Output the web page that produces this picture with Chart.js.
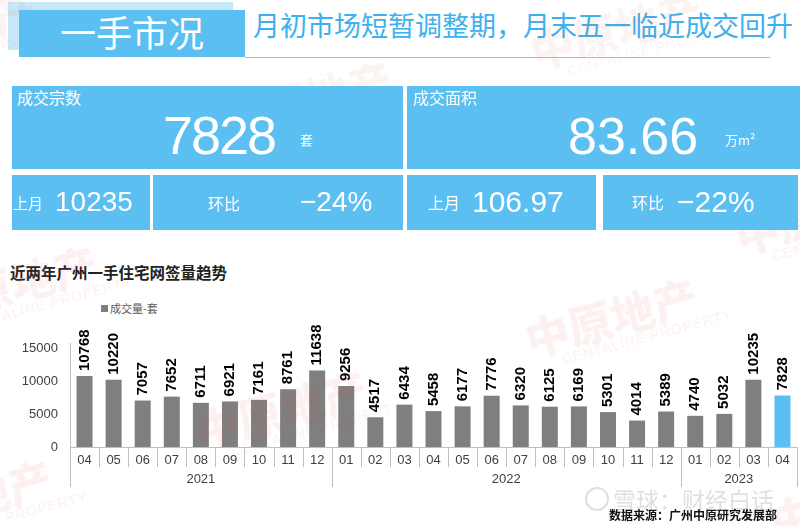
<!DOCTYPE html>
<html>
<head>
<meta charset="utf-8">
<script src="https://cdn.jsdelivr.net/npm/chart.js@4.4.0/dist/chart.umd.min.js"></script>
<style>
  body { margin: 0; width: 800px; height: 526px; overflow: hidden; background: #fff; position: relative;
         font-family: "Noto Sans CJK SC", "Liberation Sans", sans-serif; }
  .abs { position: absolute; white-space: nowrap; }
  .box { position: absolute; background: #5bbff2; z-index: 2; }
  .txt { position: absolute; white-space: nowrap; color: #fff; z-index: 3; }
  .num { font-family: "Liberation Sans", Arial, sans-serif; }
  .wm { position: absolute; z-index: 1; color: rgba(225, 70, 70, 0.08); transform: rotate(-15deg);
        transform-origin: left top; pointer-events: none; line-height: 1; white-space: nowrap; width: 220px; }
  .wm b { display: block; font-size: 44px; font-weight: 900; white-space: nowrap; }
  .wm i { display: block; font-style: normal; font-family: "Liberation Sans", sans-serif; font-size: 14px;
          letter-spacing: 1px; margin-left: 30px; white-space: nowrap; }
  #wrap { position: absolute; left: 0; top: 318px; width: 800px; height: 182px; z-index: 0; }
</style>
</head>
<body>

<!-- 标题区 -->
<div class="box" style="left:8px;top:2px;width:225px;height:48px;background:#c6e9fa;z-index:1"></div>
<div class="box" style="left:19px;top:10px;width:226px;height:47px"></div>
<div class="txt" style="left:60px;top:13px;font-size:36px;line-height:36px">一手市况</div>
<div class="abs" style="left:253px;top:11px;font-size:27px;line-height:27px;color:#3db1ee">月初市场短暂调整期，月末五一临近成交回升</div>
<div class="abs" style="left:245px;top:57px;width:525px;height:1px;background:#7fcdf3"></div>

<!-- KPI -->
<div class="box" style="left:12px;top:86px;width:391px;height:83px"></div>
<div class="box" style="left:407px;top:86px;width:393px;height:83px"></div>
<div class="box" style="left:12px;top:175px;width:138px;height:55px"></div>
<div class="box" style="left:153px;top:175px;width:250px;height:55px"></div>
<div class="box" style="left:407px;top:175px;width:189px;height:55px"></div>
<div class="box" style="left:603px;top:175px;width:195px;height:55px"></div>

<div class="txt" style="left:17px;top:89px;font-size:16px;line-height:16px">成交宗数</div>
<div class="txt num" style="left:163px;top:108px;font-size:54px;line-height:54px;letter-spacing:-2px">7828</div>
<div class="txt" style="left:300px;top:133px;font-size:13px;line-height:13px">套</div>

<div class="txt" style="left:413px;top:89px;font-size:16px;line-height:16px">成交面积</div>
<div class="txt num" style="left:568px;top:110px;font-size:52px;line-height:52px">83.66</div>
<div class="txt" style="left:725px;top:133px;font-size:13px;line-height:13px">万m²</div>

<div class="txt" style="left:13px;top:195px;font-size:15px;line-height:15px">上月</div>
<div class="txt num" style="left:55px;top:188px;font-size:28px;line-height:28px">10235</div>
<div class="txt" style="left:208px;top:195px;font-size:16px;line-height:16px">环比</div>
<div class="txt num" style="left:300px;top:188px;font-size:28px;line-height:28px">−24%</div>

<div class="txt" style="left:428px;top:194px;font-size:16px;line-height:16px">上月</div>
<div class="txt num" style="left:472px;top:187px;font-size:30px;line-height:30px">106.97</div>
<div class="txt" style="left:632px;top:194px;font-size:16px;line-height:16px">环比</div>
<div class="txt num" style="left:677px;top:187px;font-size:30px;line-height:30px">−22%</div>

<!-- 图表 -->
<div class="abs" style="left:10px;top:264px;font-size:15.5px;line-height:16px;font-weight:bold;color:#222">近两年广州一手住宅网签量趋势</div>
<div class="abs" style="left:101px;top:305px;width:7px;height:7px;background:#7f7f7f"></div>
<div class="abs" style="left:110px;top:302px;font-size:11px;line-height:12px;color:#595959">成交量-套</div>
<div id="wrap"><canvas id="bars"></canvas></div>
<div class="abs" style="left:609px;top:509px;font-size:12px;line-height:12px;font-weight:bold;color:#111;z-index:3">数据来源：广州中原研究发展部</div>

<!-- 水印 -->
<div class="abs" style="left:585px;top:487px;width:20px;height:20px;border:2px solid rgba(150,150,150,0.3);border-radius:50%;z-index:1"></div>
<div class="abs" style="left:613px;top:487px;font-size:23px;line-height:24px;color:rgba(150,150,150,0.3);z-index:1">雪球：财经白话</div>
<div class="wm" style="left:215px;top:100px"><b>中原地产</b><i>CENTALINE PROPERTY</i></div>
<div class="wm" style="left:520px;top:318px"><b>中原地产</b><i>CENTALINE PROPERTY</i></div>
<div class="wm" style="left:190px;top:410px"><b>中原地产</b><i>CENTALINE PROPERTY</i></div>
<div class="wm" style="left:-80px;top:285px"><b>中原地产</b><i>CENTALINE PROPERTY</i></div>
<div class="wm" style="left:-125px;top:500px"><b>中原地产</b><i>CENTALINE PROPERTY</i></div>
<div class="wm" style="left:525px;top:30px"><b>中原地产</b><i>CENTALINE PROPERTY</i></div>
<div class="wm" style="left:-140px;top:30px"><b>中原地产</b><i>CENTALINE PROPERTY</i></div>
<div class="wm" style="left:730px;top:215px"><b>中原地产</b><i>CENTALINE PROPERTY</i></div>
<div class="wm" style="left:765px;top:500px"><b>中原地产</b><i>CENTALINE PROPERTY</i></div>

<script>
const months = ["04", "05", "06", "07", "08", "09", "10", "11", "12",
  "01", "02", "03", "04", "05", "06", "07", "08", "09", "10", "11", "12",
  "01", "02", "03", "04"];
const sales = [10768, 10220, 7057, 7652, 6711, 6921, 7161, 8761, 11638,
  9256, 4517, 6434, 5458, 6177, 7776, 6320, 6125, 6169, 5301, 4014, 5389,
  4740, 5032, 10235, 7828];
const yearLabels = ["2021", "2022", "2023"];
const yearSpans = [9, 12, 4];
const yTicks = [0, 5000, 10000, 15000];

const GREY = "#7f7f7f";
const BLUE = "#5bbff2";
const LINE = "#bfbfbf";

// 柱顶竖排数值
const valueLabels = {
  id: "valueLabels",
  afterDatasetsDraw(chart) {
    const ctx = chart.ctx;
    const meta = chart.getDatasetMeta(0);
    ctx.save();
    ctx.fillStyle = "#000";
    ctx.font = 'bold 15px "Liberation Sans", Arial, sans-serif';
    ctx.textAlign = "left";
    ctx.textBaseline = "middle";
    meta.data.forEach((bar, i) => {
      ctx.save();
      ctx.translate(bar.x, bar.y - 5);
      ctx.rotate(-Math.PI / 2);
      ctx.fillText(String(sales[i]), 0, 0);
      ctx.restore();
    });
    ctx.restore();
  },
};

// 月份分隔线 + 年份分组
const yearAxis = {
  id: "yearAxis",
  afterDraw(chart) {
    const ctx = chart.ctx;
    const x = chart.scales.x;
    const bottom = chart.chartArea.bottom;
    const half = (x.getPixelForValue(1) - x.getPixelForValue(0)) / 2;
    const edge = (i) => x.getPixelForValue(i) - half;

    const groupEdges = [0];
    yearSpans.forEach((n) => groupEdges.push(groupEdges[groupEdges.length - 1] + n));

    ctx.save();
    ctx.strokeStyle = LINE;
    ctx.lineWidth = 1;
    for (let i = 0; i <= months.length; i++) {
      const px = Math.round(edge(i)) + 0.5;
      const len = groupEdges.includes(i) ? 40 : 20;
      ctx.beginPath();
      ctx.moveTo(px, bottom);
      ctx.lineTo(px, bottom + len);
      ctx.stroke();
    }
    ctx.fillStyle = "#404040";
    ctx.font = '13px "Liberation Sans", Arial, sans-serif';
    ctx.textAlign = "center";
    ctx.textBaseline = "middle";
    yearLabels.forEach((label, k) => {
      const cx = (edge(groupEdges[k]) + edge(groupEdges[k + 1])) / 2;
      ctx.fillText(label, cx, bottom + 32);
    });
    ctx.restore();
  },
};

function loadChart() {
  const ctx = document.getElementById("bars").getContext("2d");
  new Chart(ctx, {
    type: "bar",
    data: {
      labels: months,
      datasets: [
        {
          label: "成交量-套",
          data: sales,
          backgroundColor: sales.map((v, i) => (i === sales.length - 1 ? BLUE : GREY)),
          categoryPercentage: 1,
          barPercentage: 0.55,
        },
      ],
    },
    options: {
      responsive: true,
      maintainAspectRatio: false,
      animation: false,
      layout: { padding: { top: 25, right: 3, left: 0, bottom: 0 } },
      plugins: { legend: { display: false }, tooltip: { enabled: false } },
      scales: {
        x: {
          grid: { display: false, drawTicks: false },
          border: { display: true, color: LINE },
          ticks: {
            padding: 6,
            color: "#404040",
            maxRotation: 0,
            autoSkip: false,
            font: { size: 13, family: '"Liberation Sans", Arial, sans-serif' },
          },
          afterFit(scale) {
            scale.height = 53;
          },
        },
        y: {
          min: 0,
          max: 15800,
          grid: { display: false, drawTicks: false },
          border: { display: true, color: LINE },
          ticks: {
            padding: 12,
            color: "#404040",
            font: { size: 13, family: '"Liberation Sans", Arial, sans-serif' },
            callback: (v) => String(v),
          },
          afterBuildTicks(scale) {
            scale.ticks = yTicks.map((v) => ({ value: v }));
          },
          afterFit(scale) {
            scale.width = 70;
          },
        },
      },
    },
    plugins: [valueLabels, yearAxis],
  });
}

loadChart();
</script>
</body>
</html>
